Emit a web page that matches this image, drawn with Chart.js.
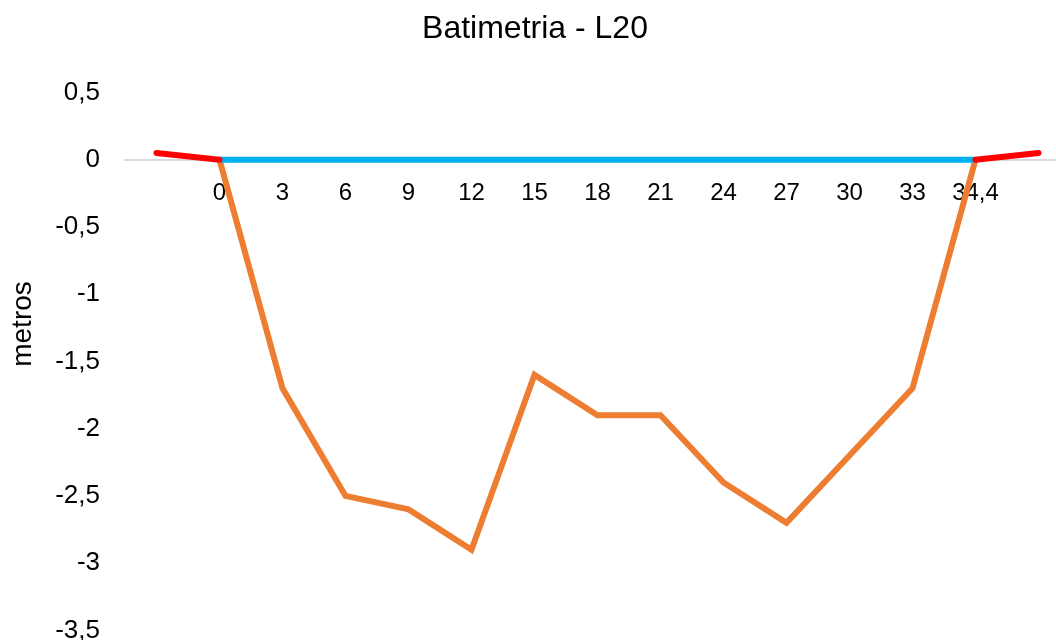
<!DOCTYPE html>
<html>
<head>
<meta charset="utf-8">
<script src="https://cdn.jsdelivr.net/npm/chart.js@4.4.0/dist/chart.umd.min.js"></script>
<style>
  html, body { margin: 0; padding: 0; background: #fff; overflow: hidden; }
  #wrap { width: 1070px; height: 646px; position: relative; }
</style>
</head>
<body>
<div id="wrap"><canvas id="mainChart"></canvas></div>
<script>
// distances along the section (m); blank slots at both ends hold the bank segments
const labels = ['', '0', '3', '6', '9', '12', '15', '18', '21', '24', '27', '30', '33', '34,4', ''];
const depth = [null, 0, -1.7, -2.5, -2.6, -2.9, -1.6, -1.9, -1.9, -2.4, -2.7, -2.2, -1.7, 0, null];
const waterLevel = [null, 0, 0, 0, 0, 0, 0, 0, 0, 0, 0, 0, 0, 0, null];
const banks = [0.05, 0, null, null, null, null, null, null, null, null, null, null, null, 0, 0.05];

const FONT = 'Liberation Sans, Arial, sans-serif';

// y-axis caption, drawn a little above the middle like the original
const axisCaption = {
    id: 'axisCaption',
    afterDraw(c) {
        const g = c.ctx;
        g.save();
        g.translate(23, 324);
        g.rotate(-Math.PI / 2);
        g.font = '28px ' + FONT;
        g.fillStyle = '#000';
        g.textAlign = 'center';
        g.textBaseline = 'middle';
        g.fillText('metros', 0, 0);
        g.restore();
    }
};

const ctx = document.getElementById('mainChart').getContext('2d');
const chart = new Chart(ctx, {
    type: 'line',
    data: {
        labels: labels,
        datasets: [
            { label: 'Margem', data: banks, borderColor: '#ff0000', borderWidth: 6, pointRadius: 0, tension: 0, order: 0, borderCapStyle: 'round' },
            { label: 'Nível', data: waterLevel, borderColor: '#00b0f0', borderWidth: 6, pointRadius: 0, tension: 0, order: 1 },
            { label: 'Fundo', data: depth, borderColor: '#ed7d31', borderWidth: 6, pointRadius: 0, tension: 0, order: 2 }
        ]
    },
    plugins: [axisCaption],
    options: {
        responsive: true,
        maintainAspectRatio: false,
        animation: false,
        layout: { padding: 0 },
        plugins: {
            legend: { display: false },
            tooltip: { enabled: false },
            title: {
                display: true,
                text: 'Batimetria - L20',
                color: '#000',
                font: { family: FONT, size: 32, weight: 'normal' },
                padding: { top: 10, bottom: 44 }
            }
        },
        scales: {
            x: {
                position: { y: 0 },
                offset: true,
                grid: { display: false, drawTicks: false },
                border: { display: true, color: '#d9d9d9', width: 2 },
                ticks: { color: '#000', font: { family: FONT, size: 24 }, padding: 19, autoSkip: false, maxRotation: 0 },
                afterFit: s => { s.height = 0; }
            },
            y: {
                min: -3.5,
                max: 0.5,
                // invisible ticks give the gap between labels and plot
                grid: { display: true, drawOnChartArea: false, drawTicks: true, tickLength: 25, color: 'rgba(0,0,0,0)' },
                border: { display: false },
                ticks: {
                    stepSize: 0.5,
                    color: '#000',
                    padding: 0,
                    font: { family: FONT, size: 26 },
                    callback: v => String(v).replace('.', ',')
                },
                afterFit: s => { s.width = 125; }
            }
        }
    }
});
</script>
</body>
</html>
